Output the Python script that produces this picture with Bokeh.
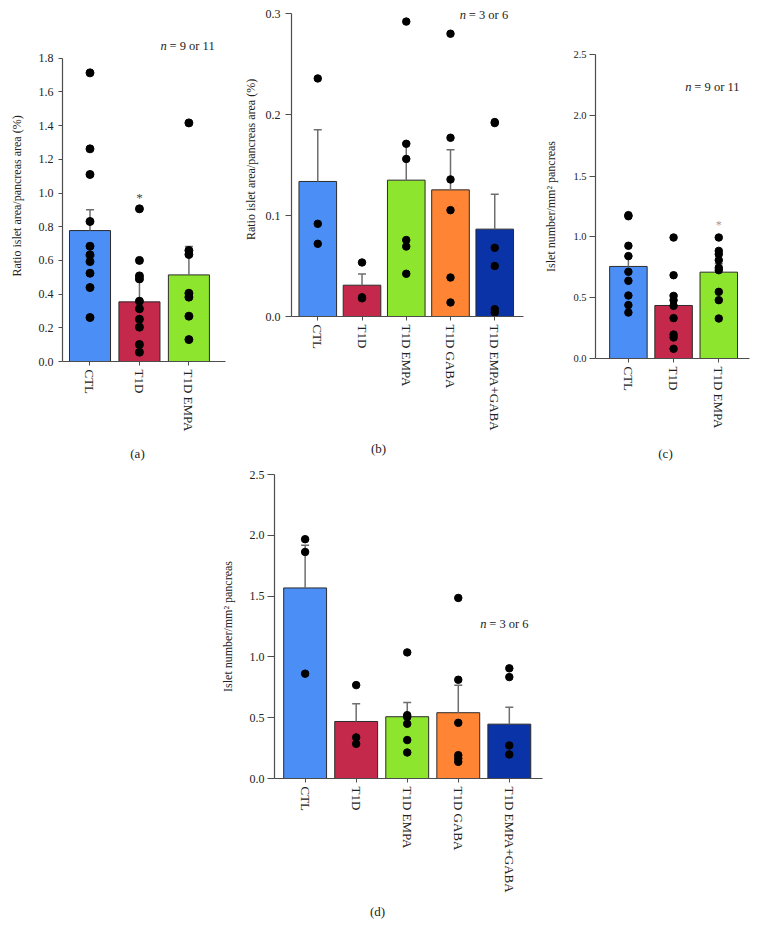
from bokeh.plotting import figure
from bokeh.models import FixedTicker, NumeralTickFormatter, Label, Range1d
from bokeh.core.properties import value
from bokeh.embed import file_html
from bokeh.resources import INLINE

FONT = "Liberation Serif"

# ---------------- data ----------------
cats3 = ["CTL", "T1D", "T1D EMPA"]
cats5 = ["CTL", "T1D", "T1D EMPA", "T1D GABA", "T1D EMPA+GABA"]
colors5 = ["#4A8EF6", "#C4294B", "#8EE52D", "#FF8534", "#0A33A8"]
tags = ["(a)", "(b)", "(c)", "(d)"]

# (a) ratio islet area / pancreas area (%), n = 9 or 11
a_mean = [0.777, 0.354, 0.514]
a_top = [0.900, 0.480, 0.682]
a_pts = [
    [1.713, 1.262, 1.110, 0.831, 0.684, 0.633, 0.593, 0.524, 0.439, 0.261],
    [0.906, 0.600, 0.508, 0.490, 0.358, 0.313, 0.251, 0.204, 0.101, 0.055],
    [1.416, 0.659, 0.635, 0.405, 0.382, 0.269, 0.130],
]
a_yticks = [0.0, 0.2, 0.4, 0.6, 0.8, 1.0, 1.2, 1.4, 1.6, 1.8]
a_star_x = [2]
a_star_y = [0.975]

# (b) ratio islet area / pancreas area (%), n = 3 or 6
b_mean = [0.1337, 0.031, 0.135, 0.1254, 0.0865]
b_top = [0.185, 0.042, 0.172, 0.165, 0.121]
b_pts = [
    [0.2357, 0.0918, 0.072],
    [0.0535, 0.019, 0.018],
    [0.292, 0.171, 0.156, 0.0757, 0.0693, 0.0423],
    [0.280, 0.177, 0.1357, 0.1053, 0.0386, 0.0139],
    [0.1925, 0.1915, 0.068, 0.050, 0.0073, 0.004],
]
b_yticks = [0.0, 0.1, 0.2, 0.3]

# (c) islet number / mm2 pancreas, n = 9 or 11
c_mean = [0.757, 0.436, 0.710]
c_top = [0.840, 0.525, 0.780]
c_pts = [
    [1.179, 1.170, 0.927, 0.842, 0.713, 0.639, 0.518, 0.439, 0.378],
    [0.995, 0.685, 0.515, 0.480, 0.433, 0.332, 0.197, 0.173, 0.080],
    [0.995, 0.885, 0.858, 0.809, 0.746, 0.726, 0.548, 0.480, 0.329],
]
c_yticks = [0.0, 0.5, 1.0, 1.5, 2.0, 2.5]
c_star_x = [3]
c_star_y = [1.10]

# (d) islet number / mm2 pancreas, n = 3 or 6
d_mean = [1.567, 0.469, 0.508, 0.541, 0.447]
d_top = [1.918, 0.615, 0.626, 0.766, 0.585]
d_pts = [
    [1.968, 1.863, 0.862],
    [0.768, 0.338, 0.285],
    [1.037, 0.521, 0.505, 0.450, 0.316, 0.214],
    [1.485, 0.812, 0.458, 0.192, 0.165, 0.137],
    [0.906, 0.834, 0.272, 0.198],
]
d_yticks = [0.0, 0.5, 1.0, 1.5, 2.0, 2.5]

AXIS_COL = "#4d4d4d"
TXT = "#222222"


def place(left, top):
    return {"position": "absolute", "left": f"{left}px", "top": f"{top}px"}


def panel(left, top, width, height, bl, br, bt, bb, xlo, xhi, yhi, ymax, cats, means,
          tops, pts, yticks, ylabel, bar_w, dot, tick_fs, tick_out, lab_so, axlab_so):
    p = figure(width=width, height=height, output_backend="svg", toolbar_location=None,
               title=None, x_range=Range1d(xlo, xhi), y_range=Range1d(0, yhi),
               min_border_left=bl, min_border_right=br, min_border_top=bt,
               min_border_bottom=bb, styles=place(left, top))
    p.outline_line_color = None
    p.background_fill_color = None
    p.border_fill_color = None
    p.grid.visible = False
    xs = list(range(1, len(cats) + 1))
    p.vbar(x=xs, top=means, bottom=0, width=bar_w, fill_color=colors5[:len(cats)],
           line_color="#2b2b2b", line_width=1)
    p.segment(x0=xs, y0=means, x1=xs, y1=tops, line_color="#6e6e6e", line_width=1.5)
    p.scatter(x=xs, y=tops, marker="dash", size=8, line_color="#6e6e6e", line_width=1.5)
    px, py = [], []
    for x, vals in zip(xs, pts):
        px += [x] * len(vals)
        py += vals
    p.scatter(px, py, size=dot, fill_color="black", line_color="black")

    yax = p.yaxis[0]
    yax.bounds = (0, ymax)
    yax.ticker = FixedTicker(ticks=yticks)
    yax.formatter = NumeralTickFormatter(format="0.0")
    yax.minor_tick_line_color = None
    yax.major_tick_in = 0
    yax.major_tick_out = tick_out
    yax.major_label_standoff = lab_so
    yax.axis_label = ylabel
    yax.axis_label_standoff = axlab_so
    yax.axis_label_text_font = FONT
    yax.axis_label_text_font_style = "normal"
    yax.axis_label_text_font_size = "12px"
    yax.axis_label_text_color = TXT
    yax.major_label_text_font = FONT
    yax.major_label_text_font_size = tick_fs
    yax.major_label_text_color = TXT

    xax = p.xaxis[0]
    xax.ticker = FixedTicker(ticks=xs)
    xax.major_label_overrides = {x: c for x, c in zip(xs, cats)}
    xax.major_label_orientation = "vertical"
    xax.minor_tick_line_color = None
    xax.major_tick_in = 0
    xax.major_tick_out = 4
    xax.major_label_standoff = 4
    xax.major_label_text_font = FONT
    xax.major_label_text_font_size = "13px"
    xax.major_label_text_color = TXT

    for ax in (xax, yax):
        ax.axis_line_color = AXIS_COL
        ax.major_tick_line_color = AXIS_COL
        ax.axis_line_width = 1.2
    return p


def tag_fig(cx, cy, tag):
    t = figure(width=40, height=20, output_backend="svg", toolbar_location=None,
               title=None, x_range=Range1d(-1, 1), y_range=Range1d(-1, 1),
               x_axis_type=None, y_axis_type=None, min_border=0,
               styles=place(cx - 20, cy - 10))
    t.outline_line_color = None
    t.background_fill_color = None
    t.border_fill_color = None
    t.grid.visible = False
    t.text(x=[0], y=[0], text=[tag], text_font=value(FONT), text_font_size="13px",
           text_align="center", text_baseline="middle", text_color=TXT)
    return t


def add_n(p, x, y, rest):
    p.add_layout(Label(x=x, y=y, text="n", text_font=FONT, text_font_style="italic",
                       text_font_size="12.5px", text_baseline="middle", text_align="left",
                       text_color=TXT))
    p.add_layout(Label(x=x, y=y, x_offset=9, text=rest, text_font=FONT,
                       text_font_size="12.5px", text_baseline="middle", text_align="left",
                       text_color=TXT))


ylab_ratio = "Ratio islet area/pancreas area (%)"
ylab_num = "Islet number/mm\u00b2 pancreas"

# (a)
fa = panel(0, 0, 235, 460, 62, 10, 30, 99, 0.444, 3.74, 1.9644, 1.8, cats3, a_mean,
           a_top, a_pts, a_yticks, ylab_ratio, 0.83, 8, "12px", 4, 5, 12)
fa.text(x=a_star_x, y=a_star_y, text=["*"], text_font=value(FONT), text_font_size="13px",
        text_align="center", text_baseline="middle", text_color="#444444")
add_n(fa, 2.426, 1.871, "= 9 or 11")

# (b)
fb = panel(235, 0, 295, 460, 56, 7, 2, 144, 0.406, 5.65, 0.3109, 0.3, cats5, b_mean,
           b_top, b_pts, b_yticks, ylab_ratio, 0.85, 7.5, "12px", 6, 5, 5)
add_n(fb, 4.21, 0.2984, "= 3 or 6")

# (c)
fc = panel(530, 0, 220, 460, 65, 1, 54, 102, 0.272, 3.68, 2.5, 2.5, cats3, c_mean,
           c_top, c_pts, c_yticks, ylab_num, 0.83, 7.5, "10.5px", 6, 3, 12)
fc.text(x=c_star_x, y=c_star_y, text=["*"], text_font=value(FONT), text_font_size="12px",
        text_align="center", text_baseline="middle", text_color="#9a9a9a")
add_n(fc, 2.26, 2.231, "= 9 or 11")

# (d)
fd = panel(200, 460, 360, 440, 74, 18, 14, 122, 0.4, 5.65, 2.5, 2.5, cats5, d_mean,
           d_top, d_pts, d_yticks, ylab_num, 0.84, 7.5, "12px", 7, 3, 12)
add_n(fd, 4.431, 1.2706, "= 3 or 6")

# panel tags
ta = tag_fig(137, 453, tags[0])
tb = tag_fig(378, 448, tags[1])
tc = tag_fig(665, 453, tags[2])
td = tag_fig(377, 911, tags[3])

open("out.html", "w").write(file_html([fa, fb, fc, fd, ta, tb, tc, td], INLINE))
